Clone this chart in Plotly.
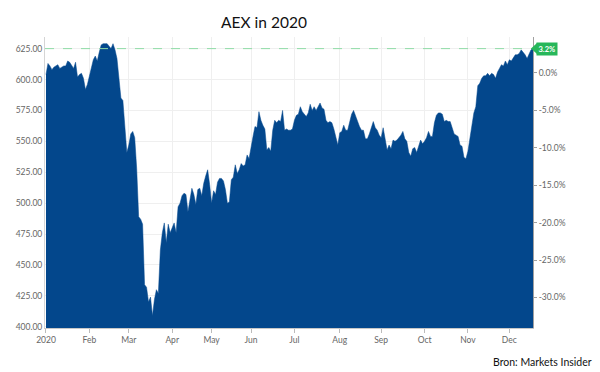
import pandas as pd
import plotly.graph_objects as go

# ---- data: AEX daily closes 2020, one list per month ----
jan = [604, 613, 611, 608, 610, 611, 612, 609, 610, 611, 611, 615, 614, 611, 609, 614,
       602, 604, 605, 601, 592, 596]
feb = [602, 609, 616, 619, 615, 622, 628, 629, 629, 629, 627, 625, 629, 624, 617, 603,
       585, 583, 558, 541]
mar = [547, 556, 558, 553, 528, 489, 487, 483, 434, 432, 420, 424, 409, 422, 430, 427,
       462, 476, 484, 468, 483, 476]
apr = [480, 484, 476, 497, 500, 506, 508, 507, 493, 503, 512, 507, 499, 511, 512, 506,
       516, 522, 527, 515]
may = [500, 510, 507, 517, 520, 520, 518, 511, 500, 501, 519, 521, 531, 524, 527, 532,
       530, 531, 539, 536]
jun = [546, 554, 562, 561, 574, 567, 563, 560, 543, 545, 542, 559, 567, 565, 567, 566,
       575, 559, 560, 559, 559, 560]
jul = [567, 571, 572, 578, 574, 572, 570, 573, 580, 575, 578, 575, 578, 581, 577, 576,
       567, 565, 566, 565, 560, 552, 547]
aug = [557, 558, 563, 559, 559, 566, 572, 575, 570, 565, 562, 559, 559, 552, 552, 556,
       562, 566, 561, 559, 555]
sep = [553, 561, 551, 543, 547, 544, 551, 550, 551, 553, 555, 558, 552, 550, 541, 538,
       544, 545, 541, 546, 551, 548]
oct_ = [550, 553, 558, 554, 554, 565, 571, 573, 573, 572, 566, 567, 566, 566, 560, 556,
        555, 554, 547, 546, 537, 536]
nov = [542, 553, 566, 573, 578, 595, 597, 601, 603, 603, 605, 603, 605, 604, 601, 606,
       609, 612, 611, 615, 612]
dec = [616, 615, 618, 620, 620, 621, 624, 622, 620, 617, 621, 624, 625]

closes = jan + feb + mar + apr + may + jun + jul + aug + sep + oct_ + nov + dec
prev_close_2019 = 605.3
badge_text = "3.2%"

month_labels = ["2020", "Feb", "Mar", "Apr", "May", "Jun", "Jul", "Aug", "Sep", "Oct", "Nov", "Dec"]
price_ticks = [400, 425, 450, 475, 500, 525, 550, 575, 600, 625]
pct_ticks = [-30, -25, -20, -15, -10, -5, 0]

holidays = ["2020-01-01", "2020-04-10", "2020-04-13", "2020-05-01"]
dates = pd.bdate_range("2020-01-02", periods=len(closes), freq="C", holidays=holidays)
cats = [d.strftime("%Y-%m-%d") for d in dates]

month_firsts = []
prev_m = None
for d, c in zip(dates, cats):
    if d.month != prev_m:
        month_firsts.append(c)
        prev_m = d.month

pct = [(v / prev_close_2019 - 1) * 100 for v in closes]

y_lo, y_hi = 399.0, 634.4
y2_lo = (y_lo / prev_close_2019 - 1) * 100
y2_hi = (y_hi / prev_close_2019 - 1) * 100

BLUE = "#03478c"
GREEN = "#27b75a"
FONT = "Lato"

fig = go.Figure()
fig.add_trace(go.Scatter(
    x=cats, y=closes, mode="lines", fill="tozeroy",
    line=dict(color=BLUE, width=0.5), fillcolor=BLUE,
    hoverinfo="skip", showlegend=False))
fig.add_trace(go.Scatter(
    x=cats, y=pct, yaxis="y2", mode="lines",
    line=dict(color="rgba(0,0,0,0)", width=0),
    hoverinfo="skip", showlegend=False))

last = closes[-1]
fig.add_shape(type="line", xref="paper", x0=0, x1=1, yref="y", y0=last, y1=last,
              line=dict(color="#8fdca7", width=1, dash="dash"), layer="above")
fig.add_shape(type="path", xref="paper", xsizemode="pixel", xanchor=1,
              yref="y", ysizemode="pixel", yanchor=last,
              path="M-2,0 L4,5.5 L4,-5.5 Z", fillcolor=GREEN, line=dict(width=0))

fig.add_annotation(xref="paper", x=1, xshift=3, yref="y", y=last, xanchor="left",
                   yanchor="middle", text="<b>" + badge_text + "</b>", showarrow=False,
                   bgcolor=GREEN, borderpad=1.5,
                   font=dict(family=FONT, size=7.5, color="white"))
fig.add_annotation(xref="paper", x=1.125, yref="paper", y=-0.118, xanchor="right",
                   yanchor="middle", text="Bron: Markets Insider", showarrow=False,
                   font=dict(family=FONT, size=10.5, color="#111"))

fig.update_layout(
    width=600, height=372,
    margin=dict(l=45, r=67, t=37, b=44),
    paper_bgcolor="white", plot_bgcolor="white",
    title=dict(text="AEX in 2020", x=0.44, xanchor="center", y=0.938, yanchor="middle",
               font=dict(family=FONT, size=15.5, color="#111")),
    xaxis=dict(type="category", range=[-0.5, len(cats) - 1],
               tickmode="array", tickvals=month_firsts, ticktext=month_labels,
               ticks="outside", ticklen=4, tickcolor="#bbbbbb",
               showgrid=True, gridcolor="#efefef",
               showline=True, linecolor="#c8c8c8",
               tickfont=dict(family=FONT, size=8.5, color="#666")),
    yaxis=dict(range=[y_lo, y_hi], tickmode="array", tickvals=price_ticks,
               tickformat=".2f", showgrid=True, gridcolor="#efefef",
               showline=True, linecolor="#d5d5d5", zeroline=False, ticks="",
               tickfont=dict(family=FONT, size=8.5, color="#666")),
    yaxis2=dict(overlaying="y", side="right", range=[y2_lo, y2_hi],
                tickmode="array", tickvals=pct_ticks,
                ticktext=[f"{v:.1f}%" for v in pct_ticks],
                showgrid=False, zeroline=False,
                showline=True, linecolor="#a0a0a0", ticks="outside", ticklen=3,
                tickcolor="#a0a0a0",
                tickfont=dict(family=FONT, size=8.5, color="#666")),
)

fig.write_html("out.html", config={"displayModeBar": False},
               post_script="document.body.style.margin='0';document.body.style.overflow='hidden';")
